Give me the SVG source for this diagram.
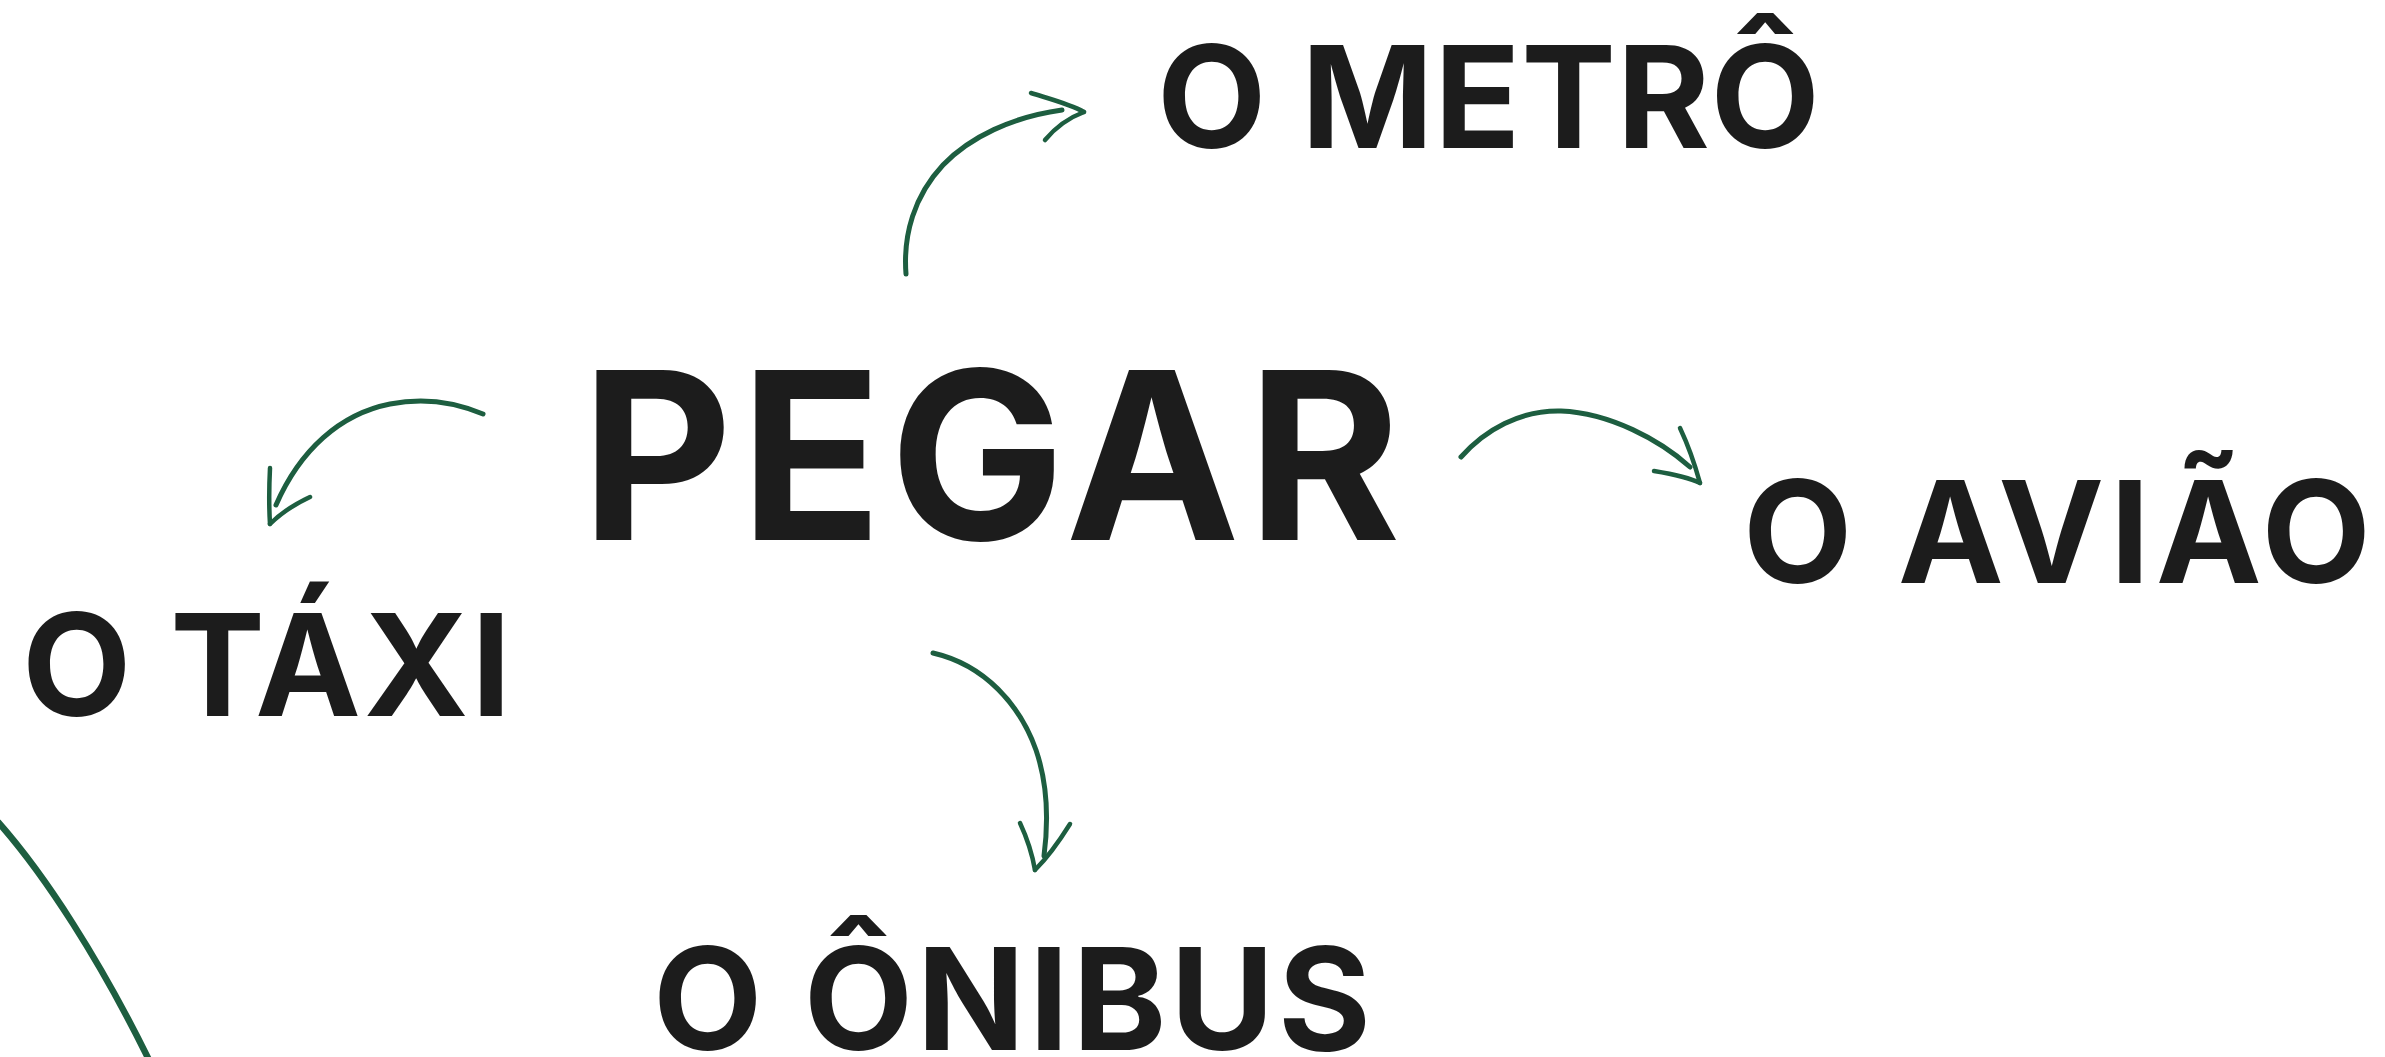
<svg xmlns="http://www.w3.org/2000/svg" width="2385" height="1057" viewBox="0 0 2385 1057">
<style>
  .t { font-family: Inter, "Liberation Sans", sans-serif; font-weight: 700; fill: #1c1c1c; }
  .big { font-size: 234px; }
  .lbl { font-size: 142px; }
  .ar path { fill: none; stroke: #1d5e40; stroke-linecap: round; stroke-linejoin: round; }
  .sh { stroke-width: 5; }
  .bb { stroke-width: 4.5; }
</style>
<rect width="2385" height="1057" fill="#ffffff"/>
<g id="connectors" class="ar">
  <g id="arrow-metro">
    <path class="sh" d="M906,274 C903,235 914,196 943,165 C970,137 1012,117 1062,110"/>
    <path class="bb" d="M1031,93 C1050,99 1070,104 1084,112"/>
    <path class="bb" d="M1045,140 C1055,128 1068,118 1084,112"/>
  </g>
  <g id="arrow-aviao">
    <path class="sh" d="M1461,457 C1485,430 1520,410 1561,411 C1610,413 1660,440 1690,467"/>
    <path class="bb" d="M1680,428 C1688,445 1695,465 1700,483"/>
    <path class="bb" d="M1654,471 C1672,474 1688,477 1700,483"/>
  </g>
  <g id="arrow-taxi">
    <path class="sh" d="M483,414 C450,400 420,398 390,404 C340,414 300,450 276,505"/>
    <path class="bb" d="M270,468 C269,488 269,508 270,524"/>
    <path class="bb" d="M310,497 C295,504 282,512 270,524"/>
  </g>
  <g id="arrow-onibus">
    <path class="sh" d="M933,653 C985,665 1020,705 1036,750 C1048,785 1048,825 1044,856"/>
    <path class="bb" d="M1020,823 C1027,838 1032,853 1035,870"/>
    <path class="bb" d="M1070,824 C1060,840 1048,857 1035,870"/>
  </g>
  <g id="arrow-bottom">
    <path d="M-2,822 C45,875 100,960 150,1062" style="stroke-width:6.5"/>
  </g>
</g>
<g id="node-pegar">
  <text class="t big" x="581" y="540" textLength="820" lengthAdjust="spacing">PEGAR</text>
</g>
<g id="node-metro">
  <text class="t lbl" x="1157" y="148" textLength="663" lengthAdjust="spacing">O METRÔ</text>
</g>
<g id="node-aviao">
  <text class="t lbl" x="1743" y="583" textLength="628" lengthAdjust="spacing">O AVIÃO</text>
</g>
<g id="node-taxi">
  <text class="t lbl" x="22" y="716" textLength="489" lengthAdjust="spacing">O TÁXI</text>
</g>
<g id="node-onibus">
  <text class="t lbl" x="653" y="1050" textLength="718" lengthAdjust="spacing">O ÔNIBUS</text>
</g>
</svg>
